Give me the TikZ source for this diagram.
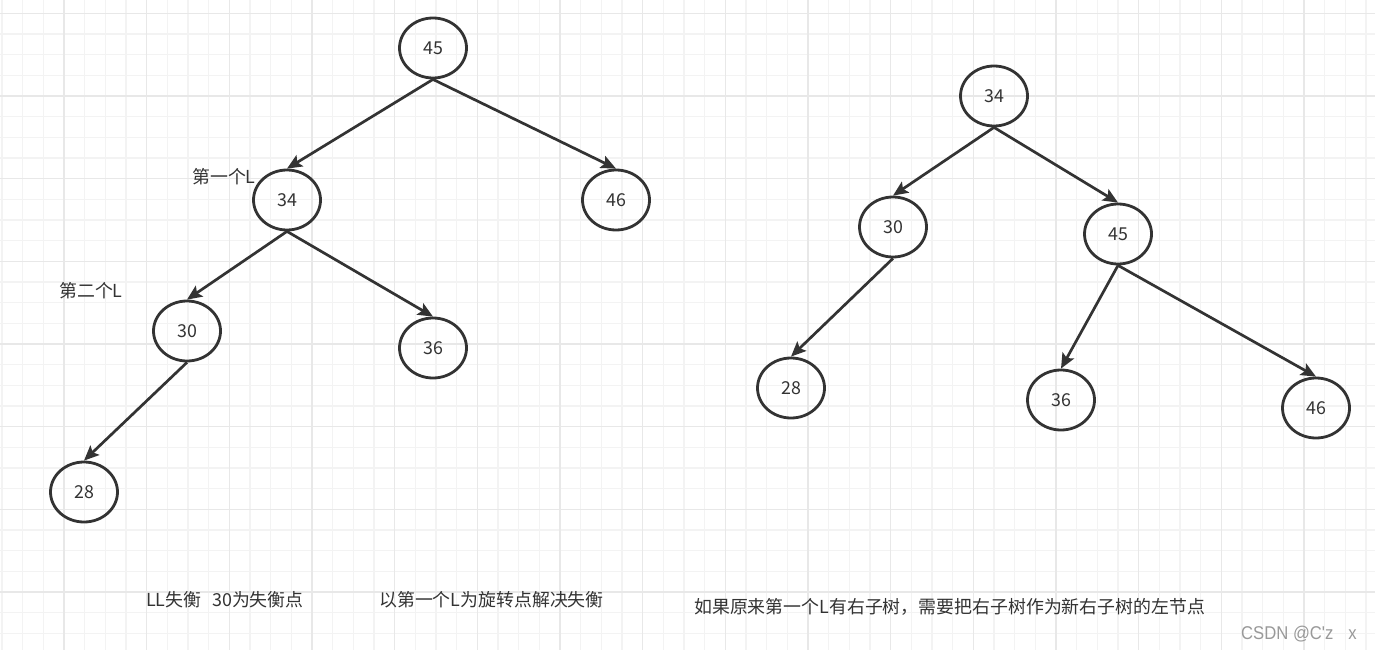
\documentclass[tikz,border=0pt]{standalone}
\usepackage{fontspec}
\setmainfont{Noto Sans CJK SC}
\newfontfamily\wmfont{Liberation Sans}
\usetikzlibrary{shapes.geometric,arrows.meta}
\definecolor{ink}{HTML}{333333}
\definecolor{gminor}{HTML}{F3F3F3}
\definecolor{gmajor}{HTML}{E8E8E8}
\tikzset{
  tnode/.style={ellipse,draw=ink,line width=2.8pt,minimum width=67pt,minimum height=60pt,inner sep=0pt,text=ink,font=\fontsize{17.8}{20}\selectfont},
  edge/.style={draw=ink,line width=2.7pt,-{Stealth[length=15pt,width=13pt,inset=3pt]}},
  lbl/.style={text=ink,font=\fontsize{17.9}{20}\selectfont,inner sep=0pt}
}
\begin{document}
\begin{tikzpicture}[x=1pt,y=-1pt]
\useasboundingbox (0,0) rectangle (1375,650);
\fill[white] (0,0) rectangle (1375,650);
% grid
\foreach \i in {0,...,67}{\draw[gminor,line width=1.2pt] ({2+20.667*\i},0) -- ({2+20.667*\i},650);}
\foreach \j in {-1,...,31}{\draw[gminor,line width=1.2pt] (0,{13.33+20.667*\j}) -- (1375,{13.33+20.667*\j});}
\foreach \k in {-1,...,16}{\draw[gmajor,line width=1.2pt] ({64+82.667*\k},0) -- ({64+82.667*\k},650);}
\foreach \k in {0,...,7}{\draw[gmajor,line width=1.2pt] (0,{13.33+82.667*\k}) -- (1375,{13.33+82.667*\k});}
% left tree
\node[tnode] (a45) at (433,48) {45};
\node[tnode] (a34) at (287,200) {34};
\node[tnode] (a46) at (616,200) {46};
\node[tnode] (a30) at (187,331) {30};
\node[tnode] (a36) at (433,348) {36};
\node[tnode] (a28) at (84,492) {28};
\draw[edge] (a45.south) -- (a34.north);
\draw[edge] (a45.south) -- (a46.north);
\draw[edge] (a34.south) -- (a30.north);
\draw[edge] (a34.south) -- (a36.north);
\draw[edge] (a30.south) -- (a28.north);
% right tree
\node[tnode] (b34) at (994,96) {34};
\node[tnode] (b30) at (893,227) {30};
\node[tnode] (b45) at (1118,234) {45};
\node[tnode] (b28) at (791,388) {28};
\node[tnode] (b36) at (1061,400) {36};
\node[tnode] (b46) at (1316,408) {46};
\draw[edge] (b34.south) -- (b30.north);
\draw[edge] (b34.south) -- (b45.north);
\draw[edge] (b30.south) -- (b28.north);
\draw[edge] (b45.south) -- (b36.north);
\draw[edge] (b45.south) -- (b46.north);
% labels
\node[lbl,anchor=west] (l1) at (192,177) {第一个L};
\node[lbl,anchor=west] (l2) at (59,291) {第二个L};
\node[lbl,anchor=west] (t1) at (146,600) {LL失衡\hspace{0.6em}30为失衡点};
\node[lbl,anchor=west] (t2) at (379,600) {以第一个L为旋转点解决失衡};
\node[lbl,anchor=west] (t3) at (694,607) {如果原来第一个L有右子树，需要把右子树作为新右子树的左节点};
\node[anchor=west,inner sep=0pt,text=black!40,font=\wmfont\fontsize{18.5}{20}\selectfont] (wm) at (1241,634) {\scalebox{0.9}[1]{CSDN @C'z\hspace{0.9em}x}};
\end{tikzpicture}
\end{document}
